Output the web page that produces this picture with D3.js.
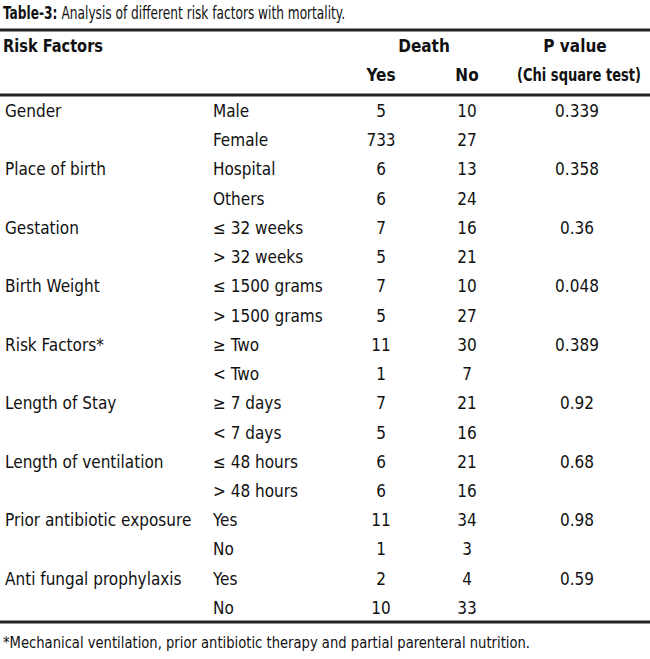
<!DOCTYPE html><html><head><meta charset="utf-8"><script src="https://cdn.jsdelivr.net/npm/d3@7"></script>
<style>body{margin:0;background:#fff}text{font-family:"Liberation Sans Narrow","DejaVu Sans Condensed",sans-serif;fill:#111}</style></head><body>
<svg id="c" width="650" height="659"></svg>
<script>
const factors=["Gender","","Place of birth","","Gestation","","Birth Weight","","Risk Factors*","","Length of Stay","","Length of ventilation","","Prior antibiotic exposure","","Anti fungal prophylaxis",""];
const levels=["Male","Female","Hospital","Others","≤ 32 weeks","> 32 weeks","≤ 1500 grams","> 1500 grams","≥ Two","< Two","≥ 7 days","< 7 days","≤ 48 hours","> 48 hours","Yes","No","Yes","No"];
const yes=[5,733,6,6,7,5,7,5,11,1,7,5,6,6,11,1,2,10];
const no=[10,27,13,24,16,21,10,27,30,7,21,16,21,16,34,3,4,33];
const pvals=["0.339","","0.358","","0.36","","0.048","","0.389","","0.92","","0.68","","0.98","","0.59",""];
const svg=d3.select("#c");
const y=d3.scaleLinear().domain([0,17]).range([111,608]);
const t=(x,yy,s,o={})=>{const e=svg.append("text").attr("x",x).attr("y",yy).attr("dy","0.35em").attr("text-anchor",o.a||"start").attr("font-size",o.fs||17).attr("font-weight",o.b?"bold":"normal").text(s);if(o.tl)e.attr("textLength",o.tl).attr("lengthAdjust","spacingAndGlyphs");return e;};
const tt=svg.append("text").attr("x",3).attr("y",13).attr("dy","0.35em").attr("font-size",17).attr("textLength",342).attr("lengthAdjust","spacingAndGlyphs");
tt.append("tspan").attr("font-weight","bold").text("Table-3: ");tt.append("tspan").text("Analysis of different risk factors with mortality.");
[[30,3],[95,3],[622,3]].forEach(([yy,w])=>svg.append("line").attr("x1",0).attr("x2",650).attr("y1",yy).attr("y2",yy).attr("stroke","#222").attr("stroke-width",w));
t(3,46,"Risk Factors",{b:1,tl:100});t(424,46,"Death",{b:1,a:"middle"});t(575,46,"P value",{b:1,a:"middle"});
t(381,75,"Yes",{b:1,a:"middle"});t(467,75,"No",{b:1,a:"middle"});t(579,75,"(Chi square test)",{b:1,a:"middle",tl:124});
levels.forEach((l,i)=>{const yy=y(i);
 t(5,yy,factors[i]);t(213,yy,l);t(381,yy,yes[i],{a:"middle"});t(467,yy,no[i],{a:"middle"});t(577,yy,pvals[i],{a:"middle"});});
t(3,643,"*Mechanical ventilation, prior antibiotic therapy and partial parenteral nutrition.",{fs:15,tl:527});
</script></body></html>
